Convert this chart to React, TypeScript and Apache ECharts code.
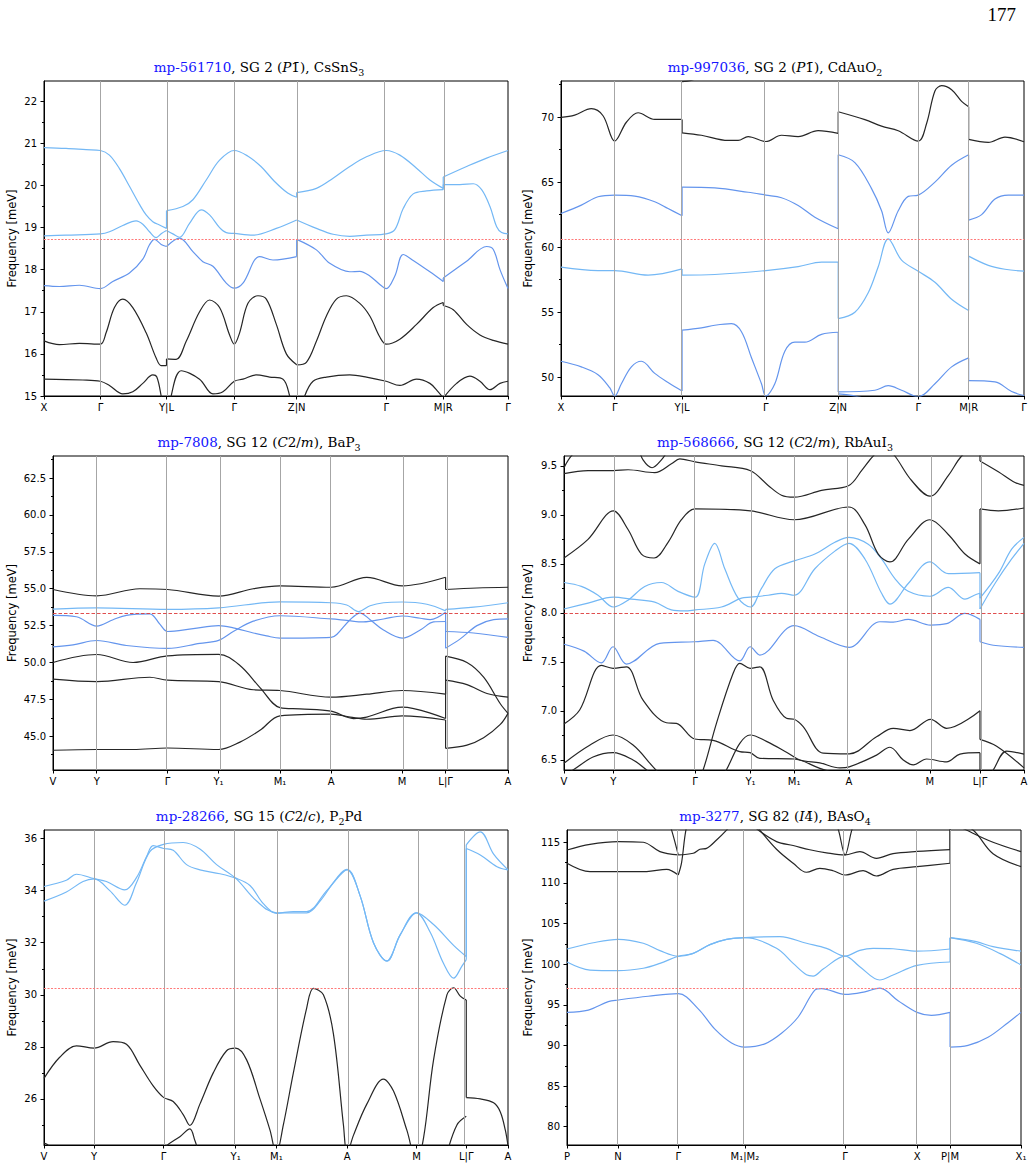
import React, { useEffect, useRef } from "react";
import * as echarts from "echarts";

// ---------- k-path ticks ----------
const PATH_TRICLINIC = ["X", "Γ", "Y|L", "Γ", "Z|N", "Γ", "M|R", "Γ"];
const PATH_MONO = ["V", "Y", "Γ", "Y₁", "M₁", "A", "M", "L|Γ", "A"];
const PATH_TET = ["P", "N", "Γ", "M₁|M₂", "Γ", "X", "P|M", "X₁"];

// ---------- mp-561710 CsSnS3 ----------
const CSSNS3_KPOS = [0, 0.169, 0.367, 0.57, 0.757, 1.025, 1.196, 1.39];
const CSSNS3_YTICKS = [15, 16, 17, 18, 19, 20, 21, 22];
const CSSNS3_YRANGE = [15, 22.48];
const CSSNS3_GAP = 18.73;
const CSSNS3_B1 = [
  [[0, 20.9], [0.066, 20.88], [0.126, 20.85], [0.169, 20.83], [0.196, 20.72], [0.226, 20.4], [0.256, 19.98], [0.286, 19.55], [0.306, 19.3], [0.326, 19.14], [0.346, 19.06], [0.367, 18.98]],
  [[0.367, 19.4], [0.416, 19.5], [0.446, 19.66], [0.486, 20.13], [0.526, 20.6], [0.57, 20.83], [0.61, 20.7], [0.65, 20.45], [0.69, 20.1], [0.73, 19.82], [0.757, 19.72]],
  [[0.757, 19.83], [0.816, 19.93], [0.866, 20.17], [0.916, 20.45], [0.966, 20.68], [1.025, 20.83], [1.066, 20.72], [1.116, 20.41], [1.156, 20.13], [1.196, 19.93]],
  [[1.196, 20.2], [1.266, 20.45], [1.326, 20.65], [1.39, 20.83]],
];
const CSSNS3_B2 = [
  [[0, 18.8], [0.066, 18.82], [0.169, 18.85], [0.196, 18.9], [0.236, 19.05], [0.276, 19.16], [0.296, 19.08], [0.316, 18.9], [0.336, 18.76], [0.352, 18.86], [0.367, 18.93]],
  [[0.367, 18.93], [0.386, 18.85], [0.406, 18.77], [0.436, 19.1], [0.471, 19.42], [0.496, 19.3], [0.526, 19.0], [0.546, 18.88], [0.57, 18.86], [0.626, 18.82], [0.696, 18.98], [0.757, 19.18]],
  [[0.757, 19.18], [0.816, 18.98], [0.866, 18.84], [0.916, 18.79], [0.966, 18.82], [1.025, 18.85], [1.051, 18.95], [1.076, 19.45], [1.106, 19.8], [1.146, 19.87], [1.196, 19.9]],
  [[1.196, 20.02], [1.246, 20.02], [1.286, 20.04], [1.311, 19.9], [1.336, 19.5], [1.356, 19.02], [1.371, 18.88], [1.39, 18.85]],
];
const CSSNS3_B3 = [
  [[0, 17.62], [0.046, 17.6], [0.106, 17.63], [0.169, 17.55], [0.206, 17.72], [0.256, 17.92], [0.296, 18.25], [0.316, 18.59], [0.331, 18.72], [0.351, 18.6], [0.367, 18.55]],
  [[0.367, 18.55], [0.406, 18.75], [0.446, 18.43], [0.476, 18.19], [0.506, 18.08], [0.546, 17.68], [0.57, 17.56], [0.596, 17.68], [0.646, 18.31], [0.686, 18.23], [0.757, 18.31]],
  [[0.757, 18.72], [0.816, 18.47], [0.856, 18.15], [0.916, 17.95], [0.946, 17.96], [0.976, 17.85], [1.006, 17.65], [1.025, 17.55], [1.051, 17.85], [1.076, 18.36], [1.106, 18.22], [1.156, 17.95], [1.196, 17.72]],
  [[1.196, 17.8], [1.266, 18.2], [1.326, 18.55], [1.346, 18.48], [1.366, 18.0], [1.39, 17.55]],
];
const CSSNS3_B4 = [
  [[0, 16.31], [0.046, 16.22], [0.106, 16.25], [0.169, 16.23], [0.186, 16.5], [0.211, 17.1], [0.236, 17.3], [0.266, 17.1], [0.306, 16.5], [0.336, 15.9], [0.351, 15.72], [0.367, 15.72]],
  [[0.367, 15.88], [0.396, 15.87], [0.426, 16.3], [0.466, 17.0], [0.496, 17.28], [0.526, 17.1], [0.556, 16.45], [0.57, 16.23], [0.586, 16.5], [0.611, 17.2], [0.641, 17.38], [0.666, 17.3], [0.696, 16.7], [0.726, 16.0], [0.757, 15.74]],
  [[0.757, 15.74], [0.786, 15.8], [0.816, 16.3], [0.846, 16.9], [0.876, 17.3], [0.906, 17.38], [0.946, 17.2], [0.976, 16.9], [1.006, 16.4], [1.025, 16.23], [1.066, 16.35], [1.116, 16.7], [1.166, 17.1], [1.196, 17.22]],
  [[1.196, 17.15], [1.226, 17.05], [1.266, 16.7], [1.306, 16.45], [1.346, 16.32], [1.39, 16.23]],
];
const CSSNS3_B5 = [
  [[0, 15.4], [0.116, 15.38], [0.169, 15.35], [0.196, 15.25], [0.236, 15.05], [0.266, 15.1], [0.296, 15.3], [0.326, 15.5], [0.338, 15.45], [0.351, 15.0], [0.359, 14.6], [0.367, 14.2]],
  [[0.367, 14.2], [0.381, 15.0], [0.411, 15.6], [0.466, 15.4], [0.506, 15.05], [0.536, 15.1], [0.57, 15.35], [0.596, 15.4], [0.636, 15.5], [0.676, 15.45], [0.716, 15.4], [0.736, 15.0], [0.746, 14.6], [0.757, 14.2]],
  [[0.757, 14.2], [0.771, 14.6], [0.781, 15.0], [0.806, 15.35], [0.846, 15.45], [0.916, 15.5], [0.966, 15.45], [1.025, 15.35], [1.066, 15.25], [1.116, 15.4], [1.156, 15.3], [1.181, 15.1], [1.196, 14.95]],
  [[1.196, 14.95], [1.236, 15.3], [1.276, 15.47], [1.306, 15.35], [1.336, 15.15], [1.366, 15.3], [1.39, 15.35]],
];

// ---------- mp-997036 CdAuO2 ----------
const CDAUO2_KPOS = [0, 0.161, 0.363, 0.614, 0.831, 1.071, 1.222, 1.388];
const CDAUO2_YTICKS = [50, 55, 60, 65, 70];
const CDAUO2_YRANGE = [48.56, 72.77];
const CDAUO2_GAP = 60.64;
const CDAUO2_K1 = [
  [[0, 69.97], [0.041, 70.15], [0.091, 70.64], [0.126, 70.1], [0.161, 68.15], [0.196, 69.6], [0.231, 70.33], [0.281, 69.82], [0.363, 69.82]],
  [[0.363, 68.79], [0.421, 68.6], [0.501, 68.2], [0.531, 68.2], [0.561, 68.5], [0.614, 68.12], [0.661, 68.6], [0.711, 68.5], [0.771, 68.95], [0.831, 68.75]],
  [[0.831, 70.41], [0.911, 69.8], [0.961, 69.3], [1.011, 68.95], [1.071, 68.15], [1.096, 69.5], [1.121, 72.0], [1.141, 72.41], [1.171, 72.1], [1.201, 71.2], [1.222, 70.79]],
  [[1.222, 68.28], [1.281, 68.05], [1.331, 68.45], [1.388, 68.1]],
];
const CDAUO2_K2 = [[[0.363, 72.72], [0.39, 72.82], [0.42, 73.1]]];
const CDAUO2_M1 = [
  [[0, 62.59], [0.061, 63.23], [0.111, 63.87], [0.161, 64.0], [0.221, 63.92], [0.281, 63.49], [0.321, 62.97], [0.363, 62.41]],
  [[0.363, 64.62], [0.461, 64.55], [0.561, 64.22], [0.614, 64.0], [0.661, 63.8], [0.711, 63.2], [0.761, 62.3], [0.831, 61.41]],
  [[0.831, 67.1], [0.881, 66.5], [0.931, 64.5], [0.961, 62.8], [0.981, 61.1], [1.011, 62.8], [1.041, 63.9], [1.071, 64.0], [1.121, 65.0], [1.171, 66.3], [1.222, 67.1]],
  [[1.222, 62.08], [1.261, 62.5], [1.301, 63.7], [1.341, 64.0], [1.388, 64.0]],
];
const CDAUO2_L1 = [
  [[0, 58.46], [0.111, 58.2], [0.161, 58.2], [0.261, 57.85], [0.363, 58.33]],
  [[0.363, 57.85], [0.461, 57.9], [0.614, 58.2], [0.711, 58.5], [0.781, 58.85], [0.831, 58.85]],
  [[0.831, 54.51], [0.881, 55.0], [0.921, 56.5], [0.951, 58.5], [0.981, 60.64], [1.021, 59.0], [1.071, 58.15], [1.121, 57.3], [1.171, 56.0], [1.222, 55.13]],
  [[1.222, 59.31], [1.281, 58.6], [1.331, 58.3], [1.388, 58.15]],
];
const CDAUO2_M2 = [
  [[0, 51.23], [0.061, 50.8], [0.111, 50.2], [0.146, 49.2], [0.161, 48.55], [0.181, 49.5], [0.211, 50.8], [0.241, 51.23], [0.281, 50.3], [0.321, 49.6], [0.363, 48.95]],
  [[0.363, 53.62], [0.421, 53.8], [0.461, 54.0], [0.511, 54.12], [0.541, 53.5], [0.571, 51.5], [0.601, 49.5], [0.614, 48.55], [0.641, 49.5], [0.671, 52.0], [0.701, 52.7], [0.731, 52.7], [0.781, 53.3], [0.831, 53.46]],
  [[0.831, 48.87], [0.941, 49.0], [0.981, 49.35], [1.021, 49.0], [1.071, 48.5], [1.121, 49.5], [1.171, 50.8], [1.222, 51.49]],
  [[1.222, 49.74], [1.301, 49.65], [1.351, 48.9], [1.388, 48.6]],
];
const CDAUO2_M3 = [[[0.831, 48.72], [0.861, 48.64], [0.891, 48.5], [0.92, 48.3]]];

// ---------- mp-7808 BaP3 ----------
const BAP3_KPOS = [0, 0.131, 0.343, 0.496, 0.68, 0.833, 1.046, 1.176, 1.363];
const BAP3_YTICKS = [45, 47.5, 50, 52.5, 55, 57.5, 60, 62.5];
const BAP3_YRANGE = [42.71, 64.0];
const BAP3_GAP = 53.34;
const BAP3_T = [
  [[0, 54.95], [0.131, 54.52], [0.26, 55.0], [0.343, 54.95], [0.496, 54.5], [0.6, 55.0], [0.68, 55.2], [0.833, 55.1], [0.94, 55.77], [1.046, 55.2], [1.176, 55.78]],
  [[1.176, 54.95], [1.27, 55.05], [1.363, 55.1]],
];
const BAP3_LB = [
  [[0, 53.62], [0.131, 53.7], [0.343, 53.6], [0.496, 53.7], [0.68, 54.11], [0.833, 54.05], [0.88, 53.9], [0.915, 53.45], [0.95, 53.85], [0.99, 54.05], [1.046, 54.1], [1.12, 53.95], [1.176, 53.5]],
  [[1.176, 53.6], [1.26, 53.75], [1.363, 54.05]],
];
const BAP3_MBA = [
  [[0, 53.19], [0.07, 53.1], [0.131, 52.47], [0.18, 52.9], [0.22, 53.2], [0.29, 53.3], [0.32, 52.6], [0.343, 52.1], [0.42, 52.3], [0.496, 52.5], [0.54, 52.35], [0.6, 52.0], [0.64, 51.8], [0.68, 51.65], [0.833, 51.7], [0.85, 51.9], [0.89, 52.9], [0.92, 53.35], [0.95, 52.9], [0.99, 52.2], [1.046, 51.65], [1.1, 52.2], [1.14, 52.75], [1.176, 52.78]],
  [[1.176, 52.1], [1.26, 52.0], [1.363, 51.7]],
];
const BAP3_MBB = [
  [[0, 51.06], [0.06, 51.2], [0.131, 51.49], [0.22, 51.15], [0.343, 50.95], [0.44, 51.3], [0.496, 51.5], [0.54, 52.1], [0.6, 52.8], [0.68, 53.17], [0.833, 52.95], [0.88, 52.85], [0.93, 52.75], [0.99, 52.95], [1.046, 53.15], [1.1, 53.0], [1.13, 52.9], [1.176, 53.4]],
  [[1.176, 50.97], [1.22, 51.6], [1.27, 52.5], [1.32, 52.9], [1.363, 52.95]],
];
const BAP3_K1 = [
  [[0, 50.0], [0.131, 50.54], [0.24, 50.0], [0.343, 50.45], [0.496, 50.55], [0.56, 49.8], [0.62, 48.3], [0.68, 46.94], [0.74, 46.85], [0.833, 46.7], [0.9, 46.2], [0.94, 46.3], [1.046, 46.97], [1.176, 46.2]],
  [[1.176, 50.43], [1.24, 50.0], [1.29, 49.0], [1.34, 47.2], [1.363, 46.55]],
];
const BAP3_K2 = [
  [[0, 48.87], [0.131, 48.7], [0.29, 49.0], [0.343, 48.8], [0.496, 48.7], [0.6, 48.15], [0.68, 48.1], [0.833, 47.65], [0.94, 47.85], [1.046, 48.1], [1.176, 47.85]],
  [[1.176, 48.8], [1.24, 48.5], [1.3, 47.9], [1.363, 47.65]],
];
const BAP3_K3 = [
  [[0, 44.05], [0.131, 44.1], [0.24, 44.1], [0.343, 44.2], [0.496, 44.1], [0.56, 44.6], [0.62, 45.4], [0.68, 46.38], [0.833, 46.5], [0.89, 46.3], [0.94, 46.15], [1.046, 46.38], [1.176, 46.1]],
  [[1.176, 44.18], [1.24, 44.4], [1.29, 44.9], [1.34, 45.8], [1.363, 46.55]],
];

// ---------- mp-568666 RbAuI3 ----------
const RBAUI3_KPOS = [0, 0.148, 0.393, 0.559, 0.69, 0.854, 1.097, 1.247, 1.379];
const RBAUI3_YTICKS = [6.5, 7.0, 7.5, 8.0, 8.5, 9.0, 9.5];
const RBAUI3_YRANGE = [6.398, 9.6];
const RBAUI3_GAP = 7.995;
const RBAUI3_T1 = [[[0, 9.48], [0.027, 9.62], [0.1, 9.8], [0.2, 9.8], [0.237, 9.56], [0.264, 9.48], [0.292, 9.56], [0.322, 9.7], [0.36, 9.8]]];
const RBAUI3_T2 = [
  [[0, 9.42], [0.072, 9.45], [0.148, 9.45], [0.192, 9.46], [0.272, 9.43], [0.322, 9.52], [0.347, 9.57], [0.393, 9.54], [0.472, 9.5], [0.559, 9.45], [0.612, 9.3], [0.652, 9.2], [0.69, 9.18], [0.772, 9.25], [0.854, 9.3], [0.892, 9.45], [0.927, 9.6], [0.962, 9.7], [0.992, 9.6], [1.042, 9.35], [1.097, 9.19], [1.152, 9.4], [1.192, 9.6], [1.247, 9.75]],
  [[1.247, 9.55], [1.302, 9.44], [1.352, 9.33], [1.379, 9.3]],
];
const RBAUI3_T3 = [
  [[0, 8.56], [0.072, 8.75], [0.148, 9.04], [0.192, 8.85], [0.232, 8.6], [0.27, 8.56], [0.312, 8.72], [0.352, 8.95], [0.393, 9.06], [0.559, 9.04], [0.69, 8.95], [0.854, 9.08], [0.902, 8.9], [0.942, 8.6], [0.977, 8.52], [1.032, 8.75], [1.097, 8.95], [1.152, 8.8], [1.202, 8.6], [1.247, 8.5]],
  [[1.247, 9.06], [1.302, 9.04], [1.379, 9.07]],
];
const RBAUI3_LBA = [
  [[0, 8.31], [0.052, 8.27], [0.102, 8.18], [0.148, 8.06], [0.192, 8.13], [0.242, 8.27], [0.292, 8.31], [0.342, 8.22], [0.393, 8.16], [0.422, 8.5], [0.452, 8.71], [0.482, 8.45], [0.522, 8.15], [0.559, 8.06], [0.592, 8.25], [0.632, 8.45], [0.69, 8.53], [0.752, 8.6], [0.812, 8.72], [0.854, 8.77], [0.912, 8.7], [0.952, 8.55], [0.992, 8.35], [1.032, 8.22], [1.097, 8.17], [1.152, 8.26], [1.202, 8.14], [1.23, 8.18], [1.247, 8.2]],
  [[1.247, 8.15], [1.302, 8.4], [1.342, 8.65], [1.379, 8.77]],
];
const RBAUI3_LBB = [
  [[0, 8.04], [0.072, 8.1], [0.148, 8.16], [0.202, 8.14], [0.272, 8.11], [0.322, 8.03], [0.362, 8.02], [0.393, 8.03], [0.472, 8.06], [0.532, 8.15], [0.559, 8.16], [0.612, 8.18], [0.652, 8.2], [0.69, 8.18], [0.752, 8.45], [0.812, 8.63], [0.854, 8.71], [0.902, 8.55], [0.952, 8.2], [0.977, 8.09], [1.032, 8.3], [1.097, 8.52], [1.152, 8.4], [1.247, 8.41]],
  [[1.247, 8.04], [1.292, 8.3], [1.342, 8.55], [1.379, 8.71]],
];
const RBAUI3_MB = [
  [[0, 7.68], [0.06, 7.61], [0.112, 7.49], [0.147, 7.655], [0.187, 7.478], [0.287, 7.69], [0.392, 7.706], [0.447, 7.72], [0.527, 7.51], [0.558, 7.655], [0.587, 7.57], [0.69, 7.87], [0.767, 7.757], [0.855, 7.649], [0.947, 7.91], [0.987, 7.905], [1.032, 7.934], [1.099, 7.876], [1.147, 7.89], [1.202, 7.996], [1.247, 7.934]],
  [[1.247, 7.706], [1.287, 7.67], [1.379, 7.649]],
];
const RBAUI3_LA = [[[0, 6.867], [0.047, 7.01], [0.112, 7.465], [0.147, 7.435], [0.187, 7.45], [0.237, 7.11], [0.307, 6.88], [0.337, 6.874], [0.392, 6.714], [0.447, 6.7], [0.527, 6.585], [0.558, 6.575], [0.587, 6.517], [0.69, 6.51], [0.767, 6.415], [0.82, 6.36]]];
const RBAUI3_LD = [
  [[0.39, 6.2], [0.417, 6.398], [0.457, 6.874], [0.507, 7.384], [0.527, 7.486], [0.558, 7.435], [0.587, 7.45], [0.627, 7.11], [0.667, 6.925], [0.69, 6.915], [0.717, 6.84], [0.777, 6.57], [0.855, 6.563], [0.937, 6.737], [0.987, 6.823], [1.037, 6.8], [1.099, 6.915], [1.147, 6.823], [1.247, 7.003]],
  [[1.247, 6.71], [1.297, 6.64], [1.379, 6.42]],
];
const RBAUI3_LB = [[[0, 6.467], [0.077, 6.65], [0.147, 6.755], [0.207, 6.653], [0.267, 6.43], [0.287, 6.36]]];
const RBAUI3_LC = [[[0, 6.36], [0.027, 6.398], [0.087, 6.53], [0.147, 6.575], [0.207, 6.5], [0.247, 6.4], [0.27, 6.33]]];
const RBAUI3_LE = [
  [[0.46, 6.25], [0.487, 6.4], [0.527, 6.67], [0.558, 6.755], [0.607, 6.69], [0.667, 6.58], [0.707, 6.5], [0.767, 6.47], [0.827, 6.42], [0.855, 6.43], [0.937, 6.55], [0.977, 6.63], [1.017, 6.5], [1.047, 6.45], [1.087, 6.51], [1.147, 6.48], [1.187, 6.56], [1.247, 6.575]],
  [[1.247, 6.35], [1.27, 6.3]],
];
const RBAUI3_LH = [[[1.27, 6.3], [1.287, 6.4], [1.327, 6.59], [1.379, 6.56]]];

// ---------- mp-28266 P2Pd ----------
const P2PD_KPOS = [0, 0.15, 0.358, 0.574, 0.696, 0.908, 1.116, 1.265, 1.39];
const P2PD_YTICKS = [26, 28, 30, 32, 34, 36];
const P2PD_YRANGE = [24.23, 36.33];
const P2PD_GAP = 30.25;
const P2PD_U1 = [
  [[0, 34.16], [0.067, 34.4], [0.097, 34.63], [0.15, 34.46], [0.187, 34.35], [0.242, 34.03], [0.277, 34.5], [0.307, 35.3], [0.327, 35.73], [0.358, 35.62], [0.387, 35.55], [0.427, 35.0], [0.467, 34.8], [0.527, 34.65], [0.574, 34.48], [0.617, 34.2], [0.657, 33.5], [0.696, 33.13], [0.747, 33.2], [0.787, 33.2], [0.847, 34.0], [0.908, 34.82], [0.947, 33.8], [0.987, 32.0], [1.027, 31.29], [1.067, 32.3], [1.116, 33.15], [1.167, 32.7], [1.227, 31.9], [1.265, 31.47]],
  [[1.265, 35.76], [1.307, 36.26], [1.347, 35.4], [1.39, 34.8]],
];
const P2PD_U2 = [
  [[0, 33.6], [0.067, 33.95], [0.117, 34.35], [0.15, 34.45], [0.197, 34.0], [0.242, 33.44], [0.277, 34.3], [0.317, 35.5], [0.358, 35.78], [0.417, 35.85], [0.467, 35.6], [0.517, 35.0], [0.574, 34.48], [0.637, 33.6], [0.696, 33.15], [0.787, 33.15], [0.827, 33.6], [0.867, 34.3], [0.908, 34.8], [0.947, 33.8], [0.987, 32.0], [1.027, 31.3], [1.067, 32.3], [1.116, 33.15], [1.157, 32.4], [1.197, 31.2], [1.227, 30.64], [1.252, 31.1], [1.265, 31.35]],
  [[1.265, 35.62], [1.307, 35.37], [1.357, 34.92], [1.39, 34.8]],
];
const P2PD_D1 = [
  [[0, 26.79], [0.047, 27.6], [0.097, 28.04], [0.15, 27.95], [0.207, 28.2], [0.247, 28.1], [0.287, 27.3], [0.327, 26.5], [0.358, 26.06], [0.387, 25.9], [0.417, 25.4], [0.437, 24.98], [0.467, 25.8], [0.507, 27.0], [0.547, 27.85], [0.574, 27.95], [0.607, 27.5], [0.647, 26.0], [0.677, 24.8], [0.696, 23.9], [0.717, 25.0], [0.747, 27.0], [0.787, 29.5], [0.807, 30.25], [0.837, 30.0], [0.867, 28.5], [0.897, 25.0], [0.908, 23.9], [0.927, 24.6], [0.967, 25.8], [1.017, 26.76], [1.047, 26.3], [1.087, 24.8], [1.116, 23.6], [1.137, 24.5], [1.167, 27.5], [1.207, 30.0], [1.227, 30.27], [1.247, 29.95], [1.265, 29.8]],
  [[1.265, 26.05], [1.307, 26.0], [1.347, 25.85], [1.367, 25.5], [1.382, 24.8], [1.39, 24.2]],
];
const P2PD_D2 = [[[0.347, 23.9], [0.367, 24.2], [0.407, 24.55], [0.437, 24.85], [0.452, 24.4], [0.467, 23.8]]];
const P2PD_D3 = [[[1.207, 23.9], [1.237, 25.0], [1.265, 25.33]]];
const P2PD_D4 = [[[0, 24.3], [0.01, 24.25], [0.03, 24.0]]];

// ---------- mp-3277 BAsO4 ----------
const BASO4_KPOS = [0, 0.153, 0.334, 0.534, 0.835, 1.051, 1.15, 1.363];
const BASO4_YTICKS = [80, 85, 90, 95, 100, 105, 110, 115];
const BASO4_YRANGE = [77.75, 116.51];
const BASO4_GAP = 97.03;
const BASO4_A1 = [
  [[0, 101.87], [0.079, 102.64], [0.154, 103.06], [0.229, 102.57], [0.279, 101.66], [0.334, 100.97], [0.379, 101.33], [0.429, 102.4], [0.479, 103.06], [0.534, 103.26], [0.639, 103.39], [0.719, 102.57], [0.779, 101.95], [0.835, 101.0], [0.879, 101.7], [0.919, 101.95], [0.979, 101.9], [1.051, 101.6], [1.15, 101.87]],
  [[1.15, 103.26], [1.229, 102.77], [1.279, 102.15], [1.363, 101.6]],
];
const BASO4_A2 = [
  [[0, 100.27], [0.069, 99.28], [0.154, 99.2], [0.229, 99.5], [0.279, 100.1], [0.334, 100.97], [0.379, 101.33], [0.429, 102.4], [0.479, 103.06], [0.534, 103.26], [0.629, 101.95], [0.679, 100.1], [0.719, 98.69], [0.739, 98.54], [0.769, 99.4], [0.835, 101.0], [0.879, 99.69], [0.939, 98.05], [0.979, 98.67], [1.051, 99.86], [1.15, 100.27]],
  [[1.15, 103.26], [1.229, 102.57], [1.299, 101.33], [1.363, 99.9]],
];
const BASO4_MB = [
  [[0, 94.07], [0.064, 94.35], [0.124, 95.4], [0.153, 95.59], [0.244, 96.05], [0.334, 96.37], [0.394, 94.5], [0.444, 92.0], [0.494, 90.3], [0.534, 89.8], [0.594, 90.2], [0.644, 91.5], [0.694, 93.5], [0.744, 96.8], [0.764, 97.0], [0.835, 96.29], [0.894, 96.6], [0.939, 97.05], [0.994, 95.5], [1.051, 94.07], [1.094, 93.7], [1.15, 94.07]],
  [[1.15, 89.8], [1.204, 90.0], [1.264, 91.0], [1.324, 92.8], [1.363, 94.07]],
];
const BASO4_C1L = [[[0, 114.05], [0.069, 114.75], [0.154, 115.08], [0.229, 115.0], [0.279, 113.85], [0.334, 113.44]]];
const BASO4_C1R = [[[0.334, 113.44], [0.379, 113.65], [0.399, 114.14], [0.419, 114.25], [0.449, 115.28], [0.479, 116.5], [0.5, 117.5]]];
const BASO4_V1 = [[[0.3, 118], [0.314, 116.5], [0.334, 113.44]]];
const BASO4_C2L = [[[0, 112.42], [0.069, 111.38], [0.154, 111.38], [0.239, 111.4], [0.299, 111.67], [0.334, 110.97]]];
const BASO4_V2 = [[[0.334, 110.97], [0.344, 112.5], [0.357, 116.5], [0.37, 118]]];
const BASO4_V3 = [[[0.8, 118], [0.815, 116.5], [0.835, 113.44], [0.855, 116.5], [0.87, 118]]];
const BASO4_CU = [
  [[0.55, 117.5], [0.574, 116.5], [0.629, 115.08], [0.679, 114.6], [0.729, 114.08], [0.779, 113.7], [0.835, 113.44], [0.879, 113.85], [0.929, 113.03], [0.979, 113.6], [1.051, 113.87], [1.15, 114.1]],
  [[1.15, 117.5], [1.199, 116.5], [1.279, 115.0], [1.363, 113.85]],
];
const BASO4_CL = [
  [[0.56, 117.5], [0.579, 116.5], [0.629, 114.14], [0.679, 112.42], [0.719, 111.31], [0.759, 111.8], [0.799, 111.5], [0.835, 110.97], [0.889, 111.5], [0.929, 110.85], [0.979, 111.67], [1.051, 112.0], [1.15, 112.42]],
  [[1.15, 118], [1.219, 116.5], [1.279, 113.6], [1.363, 112.0]],
];

// ---------- styling ----------
const BLACK = "#262626";
const MID = "#6495ed";
const LIGHT = "#74b8f5";
const KLINE = "#a6a6a6";
const GAP_SOFT = { color: "#ff7a7a", width: 1, type: [2, 1.5] };
const GAP_DASH = { color: "#dd3b3b", width: 0.9, type: [3.5, 2] };
const LW = 1.2;

const TITLES = [
  "{id|mp-561710}, SG 2 ({it|P}1\u0304), CsSnS{sub|3}",
  "{id|mp-997036}, SG 2 ({it|P}1\u0304), CdAuO{sub|2}",
  "{id|mp-7808}, SG 12 ({it|C}2/{it|m}), BaP{sub|3}",
  "{id|mp-568666}, SG 12 ({it|C}2/{it|m}), RbAuI{sub|3}",
  "{id|mp-28266}, SG 15 ({it|C}2/{it|c}), P{sub|2}Pd",
  "{id|mp-3277}, SG 82 ({it|I}4\u0304), BAsO{sub|4}",
];

type Panel = {
  kpos: number[];
  klabels: string[];
  yticks: number[];
  yrange: number[];
  gap: number;
  decimals: number;
  bands: { data: number[][][]; color: string }[];
  gapStyle: any;
  box: { left: number; top: number; width: number; height: number; nameGap: number; titleX: number };
};

const PANELS: Panel[] = [
  {
    kpos: CSSNS3_KPOS, klabels: PATH_TRICLINIC, yticks: CSSNS3_YTICKS, yrange: CSSNS3_YRANGE, gap: CSSNS3_GAP, decimals: 0,
    bands: [
      { data: CSSNS3_B5, color: BLACK }, { data: CSSNS3_B4, color: BLACK },
      { data: CSSNS3_B3, color: MID }, { data: CSSNS3_B2, color: LIGHT }, { data: CSSNS3_B1, color: LIGHT },
    ],
    gapStyle: GAP_SOFT,
    box: { left: 44, top: 81, width: 464, height: 315, nameGap: 26, titleX: 259 },
  },
  {
    kpos: CDAUO2_KPOS, klabels: PATH_TRICLINIC, yticks: CDAUO2_YTICKS, yrange: CDAUO2_YRANGE, gap: CDAUO2_GAP, decimals: 0,
    bands: [
      { data: CDAUO2_M3, color: MID }, { data: CDAUO2_M2, color: MID }, { data: CDAUO2_L1, color: LIGHT },
      { data: CDAUO2_M1, color: MID }, { data: CDAUO2_K1, color: BLACK }, { data: CDAUO2_K2, color: BLACK },
    ],
    gapStyle: GAP_SOFT,
    box: { left: 561, top: 81, width: 463, height: 315, nameGap: 27, titleX: 775 },
  },
  {
    kpos: BAP3_KPOS, klabels: PATH_MONO, yticks: BAP3_YTICKS, yrange: BAP3_YRANGE, gap: BAP3_GAP, decimals: 1,
    bands: [
      { data: BAP3_K3, color: BLACK }, { data: BAP3_K2, color: BLACK }, { data: BAP3_K1, color: BLACK },
      { data: BAP3_MBB, color: MID }, { data: BAP3_MBA, color: MID }, { data: BAP3_LB, color: LIGHT }, { data: BAP3_T, color: BLACK },
    ],
    gapStyle: GAP_DASH,
    box: { left: 53, top: 456, width: 455, height: 314, nameGap: 35, titleX: 259 },
  },
  {
    kpos: RBAUI3_KPOS, klabels: PATH_MONO, yticks: RBAUI3_YTICKS, yrange: RBAUI3_YRANGE, gap: RBAUI3_GAP, decimals: 1,
    bands: [
      { data: RBAUI3_LC, color: BLACK }, { data: RBAUI3_LB, color: BLACK }, { data: RBAUI3_LE, color: BLACK },
      { data: RBAUI3_LH, color: BLACK }, { data: RBAUI3_LA, color: BLACK }, { data: RBAUI3_LD, color: BLACK },
      { data: RBAUI3_MB, color: MID }, { data: RBAUI3_LBB, color: LIGHT }, { data: RBAUI3_LBA, color: LIGHT },
      { data: RBAUI3_T3, color: BLACK }, { data: RBAUI3_T2, color: BLACK }, { data: RBAUI3_T1, color: BLACK },
    ],
    gapStyle: GAP_DASH,
    box: { left: 564, top: 456, width: 460, height: 314, nameGap: 30, titleX: 775 },
  },
  {
    kpos: P2PD_KPOS, klabels: PATH_MONO, yticks: P2PD_YTICKS, yrange: P2PD_YRANGE, gap: P2PD_GAP, decimals: 0,
    bands: [
      { data: P2PD_D4, color: BLACK }, { data: P2PD_D3, color: BLACK }, { data: P2PD_D2, color: BLACK }, { data: P2PD_D1, color: BLACK },
      { data: P2PD_U2, color: LIGHT }, { data: P2PD_U1, color: LIGHT },
    ],
    gapStyle: GAP_SOFT,
    box: { left: 44, top: 830, width: 464, height: 315, nameGap: 26, titleX: 259 },
  },
  {
    kpos: BASO4_KPOS, klabels: PATH_TET, yticks: BASO4_YTICKS, yrange: BASO4_YRANGE, gap: BASO4_GAP, decimals: 0,
    bands: [
      { data: BASO4_MB, color: MID }, { data: BASO4_A2, color: LIGHT }, { data: BASO4_A1, color: LIGHT },
      { data: BASO4_C2L, color: BLACK }, { data: BASO4_C1L, color: BLACK }, { data: BASO4_C1R, color: BLACK },
      { data: BASO4_V1, color: BLACK }, { data: BASO4_V2, color: BLACK }, { data: BASO4_V3, color: BLACK },
      { data: BASO4_CL, color: BLACK }, { data: BASO4_CU, color: BLACK },
    ],
    gapStyle: GAP_SOFT,
    box: { left: 567, top: 830, width: 454, height: 315, nameGap: 33, titleX: 775 },
  },
];

function nearestLabel(v: number, kpos: number[], labels: string[]) {
  let best = 0;
  for (let i = 1; i < kpos.length; i++) {
    if (Math.abs(kpos[i] - v) < Math.abs(kpos[best] - v)) best = i;
  }
  return labels[best];
}

function minorTicks(major: number[], lo: number, hi: number) {
  const step = major[1] - major[0];
  const out: number[] = [];
  const cands = [major[0] - step / 2, ...major.map((m) => m + step / 2)];
  for (const c of cands) if (c >= lo && c <= hi) out.push(c);
  return out;
}

function buildOption() {
  const grid: any[] = [];
  const xAxis: any[] = [];
  const yAxis: any[] = [];
  const series: any[] = [];
  const graphic: any[] = [];
  const sans = "DejaVu Sans";
  const serif = "DejaVu Serif";

  PANELS.forEach((p, i) => {
    const b = p.box;
    grid.push({
      left: b.left, top: b.top, width: b.width, height: b.height,
      show: true, borderColor: "#000", borderWidth: 1, backgroundColor: "transparent", containLabel: false,
    });
    const kmax = p.kpos[p.kpos.length - 1];
    xAxis.push({
      type: "value", gridIndex: i, min: 0, max: kmax,
      axisLine: { show: true, onZero: false, lineStyle: { color: "#000", width: 1 } },
      axisTick: { show: true, customValues: p.kpos, length: 3.5, lineStyle: { color: "#000" } },
      axisLabel: {
        show: true, customValues: p.kpos, margin: 6, fontSize: 10, color: "#000", fontFamily: sans,
        formatter: (v: number) => nearestLabel(v, p.kpos, p.klabels),
      },
      splitLine: { show: false },
    });
    const [ymin, ymax] = p.yrange;
    yAxis.push({
      type: "value", gridIndex: i, min: ymin, max: ymax, position: "left",
      name: "Frequency [meV]", nameLocation: "middle", nameGap: b.nameGap,
      nameTextStyle: { fontSize: 11.5, color: "#000", fontFamily: sans },
      axisLine: { show: true, onZero: false, lineStyle: { color: "#000", width: 1 } },
      axisTick: { show: true, customValues: p.yticks, length: 3.5, lineStyle: { color: "#000" } },
      axisLabel: {
        show: true, customValues: p.yticks, margin: 7, fontSize: 10, color: "#000", fontFamily: sans,
        formatter: (v: number) => v.toFixed(p.decimals),
      },
      splitLine: { show: false },
    });
    yAxis.push({
      type: "value", gridIndex: i, min: ymin, max: ymax, position: "left",
      axisLine: { show: false },
      axisTick: { show: true, customValues: minorTicks(p.yticks, ymin, ymax), length: 2, lineStyle: { color: "#000" } },
      axisLabel: { show: false },
      splitLine: { show: false },
    });

    // high-symmetry verticals and the gap marker
    series.push({
      type: "line", xAxisIndex: i, yAxisIndex: 2 * i, data: [], symbol: "none", silent: true, z: 1,
      markLine: {
        silent: true, symbol: ["none", "none"], label: { show: false }, animation: false,
        emphasis: { disabled: true },
        data: [
          ...p.kpos.slice(1, -1).map((k) => ({ xAxis: k, lineStyle: { color: KLINE, width: 1, type: "solid" } })),
          { yAxis: p.gap, lineStyle: p.gapStyle },
        ],
      },
    });

    p.bands.forEach((band) => {
      band.data.forEach((seg, j) => {
        if (!seg || seg.length === 0) return;
        series.push({
          type: "line", xAxisIndex: i, yAxisIndex: 2 * i, data: seg, smooth: 0.35,
          symbol: "none", showSymbol: false, silent: true, z: 3, clip: true,
          lineStyle: { color: band.color, width: LW },
        });
        const prev = j > 0 ? band.data[j - 1] : null;
        if (prev && prev.length) {
          const a = prev[prev.length - 1];
          const c = seg[0];
          if (Math.abs(a[0] - c[0]) < 1e-9 && Math.abs(a[1] - c[1]) > 1e-9) {
            series.push({
              type: "line", xAxisIndex: i, yAxisIndex: 2 * i, data: [a, c], smooth: false,
              symbol: "none", showSymbol: false, silent: true, z: 3, clip: true,
              lineStyle: { color: band.color, width: LW },
            });
          }
        }
      });
    });

    graphic.push({
      type: "text", x: b.titleX, y: b.top - 14, silent: true,
      style: {
        text: TITLES[i], align: "center", verticalAlign: "middle",
        fontFamily: serif, fontSize: 13.5, fill: "#000", lineHeight: 16,
        rich: {
          id: { fill: "#1414ff", fontFamily: serif, fontSize: 13.5, lineHeight: 16, verticalAlign: "middle" },
          it: { fontStyle: "italic", fontFamily: serif, fontSize: 13.5, fill: "#000", lineHeight: 16, verticalAlign: "middle" },
          sub: { fontFamily: serif, fontSize: 9.5, fill: "#000", lineHeight: 21, verticalAlign: "bottom" },
        },
      },
    });
  });

  graphic.push({
    type: "text", x: 1016, y: 14, silent: true,
    style: { text: "177", align: "right", verticalAlign: "middle", fontFamily: "Liberation Serif", fontSize: 19, fill: "#000" },
  });

  return { animation: false, backgroundColor: "#fff", grid, xAxis, yAxis, series, graphic };
}

export default function App() {
  const ref = useRef<HTMLDivElement>(null);
  useEffect(() => {
    if (!ref.current) return;
    const chart = echarts.init(ref.current, undefined, { renderer: "svg" });
    chart.setOption(buildOption());
    return () => chart.dispose();
  }, []);
  return <div ref={ref} style={{ position: "absolute", left: 0, top: 0, width: 1033, height: 1170 }} />;
}
